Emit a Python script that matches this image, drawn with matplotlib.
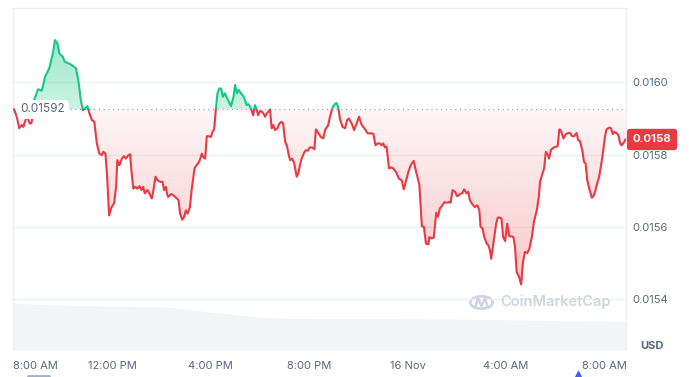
import numpy as np
import matplotlib.pyplot as plt
from matplotlib.patches import Rectangle, Circle
from matplotlib.lines import Line2D
from matplotlib.colors import to_rgb

plt.rcParams['font.family'] = ['Inter', 'DejaVu Sans']

# price, minutes after 8:00 AM (15 Nov)
minutes = [1, 8, 14, 20, 24, 30, 34, 38, 40, 44,
           49, 50, 60, 69, 77, 87, 96, 101, 107, 112,
           120, 125, 134, 142, 152, 158, 164, 169, 174, 180,
           185, 191, 197, 203, 209, 215, 219, 224, 228, 233,
           239, 245, 250, 253, 258, 264, 269, 274, 280, 284,
           288, 292, 296, 302, 307, 312, 316, 320, 326, 331,
           337, 341, 346, 351, 357, 363, 367, 371, 375, 377,
           384, 389, 398, 402, 406, 411, 416, 420, 424, 430,
           434, 441, 446, 450, 454, 459, 462, 467, 471, 476,
           481, 485, 489, 493, 497, 501, 506, 510, 515, 519,
           525, 530, 536, 540, 544, 549, 554, 560, 564, 568,
           572, 576, 580, 584, 588, 593, 596, 601, 605, 609,
           613, 617, 621, 625, 629, 633, 637, 643, 648, 653,
           657, 662, 666, 670, 674, 679, 684, 690, 694, 698,
           702, 708, 712, 717, 722, 728, 733, 737, 743, 749,
           755, 759, 767, 771, 778, 783, 787, 791, 796, 802,
           808, 813, 817, 824, 830, 836, 842, 847, 852, 858,
           863, 873, 877, 882, 887, 893, 897, 901, 905, 909,
           915, 920, 925, 932, 939, 946, 951, 956, 962, 968,
           975, 982, 989, 995, 1000, 1005, 1011, 1013, 1019, 1024,
           1030, 1034, 1039, 1045, 1050, 1055, 1062, 1065, 1070, 1076,
           1081, 1088, 1094, 1098, 1104, 1108, 1112, 1118, 1124, 1130,
           1135, 1138, 1143, 1147, 1153, 1157, 1161, 1164, 1168, 1171,
           1176, 1180, 1185, 1189, 1193, 1198, 1203, 1208, 1214, 1218,
           1222, 1226, 1232, 1237, 1241, 1246, 1252, 1257, 1263, 1268,
           1275, 1280, 1283, 1289, 1293, 1297, 1302, 1305, 1310, 1315,
           1322, 1326, 1330, 1334, 1340, 1346, 1352, 1356, 1361, 1366,
           1372, 1376, 1380, 1386, 1390, 1394, 1398, 1403, 1409, 1413,
           1417, 1421, 1427, 1433, 1437, 1441, 1445, 1452, 1456, 1460,
           1464, 1470, 1474, 1478, 1482, 1488, 1491]

price = [0.015926, 0.015905, 0.015873, 0.015882, 0.015877, 0.015898, 0.015903, 0.015891, 0.015886, 0.015888,
         0.015929, 0.015951, 0.015981, 0.015977, 0.016016, 0.016039, 0.016080, 0.016117, 0.016108, 0.016080,
         0.016071, 0.016057, 0.016053, 0.016048, 0.016039, 0.016006, 0.015951, 0.015923, 0.015928, 0.015934,
         0.015914, 0.015896, 0.015891, 0.015831, 0.015803, 0.015799, 0.015808, 0.015803, 0.015743, 0.015632,
         0.015655, 0.015665, 0.015711, 0.015785, 0.015771, 0.015789, 0.015796, 0.015789, 0.015799, 0.015801,
         0.015748, 0.015706, 0.015711, 0.015706, 0.015713, 0.015702, 0.015711, 0.015693, 0.015702, 0.015693,
         0.015679, 0.015702, 0.015739, 0.015729, 0.015725, 0.015725, 0.015702, 0.015711, 0.015688, 0.015683,
         0.015691, 0.015688, 0.015679, 0.015674, 0.015637, 0.015620, 0.015628, 0.015646, 0.015637, 0.015655,
         0.015702, 0.015762, 0.015771, 0.015776, 0.015785, 0.015803, 0.015794, 0.015789, 0.015851, 0.015851,
         0.015849, 0.015863, 0.015870, 0.015925, 0.015970, 0.015983, 0.015983, 0.015960, 0.015970, 0.015960,
         0.015946, 0.015934, 0.015960, 0.015993, 0.015970, 0.015979, 0.015970, 0.015962, 0.015951, 0.015937,
         0.015940, 0.015934, 0.015923, 0.015909, 0.015937, 0.015923, 0.015909, 0.015921, 0.015919, 0.015914,
         0.015905, 0.015914, 0.015919, 0.015925, 0.015873, 0.015882, 0.015868, 0.015873, 0.015886, 0.015891,
         0.015886, 0.015835, 0.015826, 0.015803, 0.015785, 0.015789, 0.015776, 0.015739, 0.015748, 0.015771,
         0.015789, 0.015805, 0.015812, 0.015811, 0.015820, 0.015820, 0.015815, 0.015870, 0.015859, 0.015849,
         0.015845, 0.015868, 0.015882, 0.015905, 0.015932, 0.015940, 0.015943, 0.015932, 0.015896, 0.015877,
         0.015873, 0.015896, 0.015900, 0.015886, 0.015868, 0.015886, 0.015905, 0.015886, 0.015877, 0.015868,
         0.015859, 0.015859, 0.015857, 0.015826, 0.015831, 0.015831, 0.015826, 0.015831, 0.015820, 0.015822,
         0.015762, 0.015765, 0.015762, 0.015752, 0.015734, 0.015729, 0.015704, 0.015725, 0.015752, 0.015771,
         0.015783, 0.015748, 0.015716, 0.015602, 0.015600, 0.015554, 0.015552, 0.015572, 0.015568, 0.015571,
         0.015639, 0.015628, 0.015651, 0.015660, 0.015669, 0.015667, 0.015669, 0.015667, 0.015702, 0.015697,
         0.015685, 0.015691, 0.015694, 0.015704, 0.015693, 0.015697, 0.015674, 0.015663, 0.015655, 0.015660,
         0.015646, 0.015600, 0.015596, 0.015572, 0.015554, 0.015549, 0.015535, 0.015512, 0.015545, 0.015572,
         0.015609, 0.015626, 0.015626, 0.015623, 0.015572, 0.015561, 0.015609, 0.015574, 0.015574, 0.015572,
         0.015545, 0.015475, 0.015462, 0.015441, 0.015499, 0.015531, 0.015528, 0.015540, 0.015572, 0.015614,
         0.015646, 0.015683, 0.015725, 0.015748, 0.015762, 0.015808, 0.015799, 0.015789, 0.015814, 0.015819,
         0.015822, 0.015824, 0.015870, 0.015866, 0.015845, 0.015857, 0.015860, 0.015860, 0.015851, 0.015851,
         0.015860, 0.015840, 0.015838, 0.015812, 0.015780, 0.015776, 0.015729, 0.015706, 0.015681, 0.015685,
         0.015697, 0.015716, 0.015739, 0.015780, 0.015812, 0.015849, 0.015870, 0.015875, 0.015873, 0.015857,
         0.015863, 0.015859, 0.015854, 0.015831, 0.015826, 0.015835, 0.015842]

baseline = 0.015925
baseline_label = '0.01592'
last_label = '0.0158'

# rolling 24h volume (M USD)
vol_minutes = [0, 40, 89, 211, 308, 381, 430, 467, 528, 601, 659, 771, 893, 1049, 1185, 1319, 1429, 1492]
vol_musd = [4.73, 4.60, 4.50, 4.40, 4.35, 4.27, 4.07, 3.83, 3.60, 3.30, 3.17, 3.13, 3.12, 3.10, 3.03, 2.93, 2.88, 2.87]

x_ticks = [0, 240, 480, 720, 960, 1200, 1440]
x_labels = ['8:00 AM', '12:00 PM', '4:00 PM', '8:00 PM', '16 Nov', '4:00 AM', '8:00 AM']
y_ticks = [0.0154, 0.0156, 0.0158, 0.0160]

RED = '#ea3943'
GREEN = '#16c784'
GREY = '#58667e'
GRID = '#eef1f4'
WM = '#cfd6e1'

x = np.array(minutes)
p = np.array(price)
xlim = (-1.2, 1492.4)
ylim = (0.0152596, 0.0162058)

fig = plt.figure(figsize=(6.89, 3.77), dpi=100)
pos = [13 / 689, 27 / 377, 613 / 689, 342 / 377]

# volume underneath
axv = fig.add_axes(pos, zorder=0)
axv.fill_between(vol_minutes, vol_musd, color='#f2f4f7', lw=0)
axv.set_xlim(xlim)
axv.set_ylim(0, 34.2)
axv.axis('off')

ax = fig.add_axes(pos, zorder=1)
ax.patch.set_visible(False)

# area between line and baseline, used as clip for gradients
poly = ax.fill_between(x, p, baseline, color='none', lw=0)
clip = poly.get_paths()[0]

yy = np.linspace(ylim[0], baseline, 200)
a = np.clip(0.05 + 0.23 * (baseline - yy) / (baseline - 0.01544), 0, 0.34)
img = np.zeros((200, 1, 4))
img[:, 0, :3] = to_rgb(RED)
img[:, 0, 3] = a
im = ax.imshow(img, extent=[xlim[0], xlim[1], ylim[0], baseline], origin='lower',
               aspect='auto', zorder=1, interpolation='bilinear')
im.set_clip_path(clip, transform=ax.transData)

yy = np.linspace(baseline, ylim[1], 200)
a = np.clip(0.22 + 0.2 * (yy - baseline) / (0.01612 - baseline), 0, 0.45)
img = np.zeros((200, 1, 4))
img[:, 0, :3] = to_rgb(GREEN)
img[:, 0, 3] = a
im = ax.imshow(img, extent=[xlim[0], xlim[1], baseline, ylim[1]], origin='lower',
               aspect='auto', zorder=1, interpolation='bilinear')
im.set_clip_path(clip, transform=ax.transData)

# line, green above / red below the open price
lg, = ax.plot(x, p, color=GREEN, lw=1.5, zorder=3, solid_joinstyle='round')
lr, = ax.plot(x, p, color=RED, lw=1.5, zorder=3, solid_joinstyle='round')
lg.set_clip_path(Rectangle((xlim[0], baseline), xlim[1] - xlim[0], 1, transform=ax.transData))
lr.set_clip_path(Rectangle((xlim[0], baseline - 1), xlim[1] - xlim[0], 1, transform=ax.transData))

ax.axhline(baseline, color='#8c95a4', lw=0.9, ls=(0, (0.8, 3)), zorder=2)

ax.set_xlim(xlim)
ax.set_ylim(ylim)

ax.set_yticks(y_ticks)
ax.set_yticklabels([f'{v:.4f}' for v in y_ticks])
ax.yaxis.tick_right()
ax.tick_params(axis='y', length=0, pad=4.5, labelsize=8, labelcolor=GREY)
ax.set_xticks(x_ticks)
ax.set_xticklabels(x_labels)
ax.tick_params(axis='x', length=0, pad=8, labelsize=8, labelcolor=GREY)
ax.get_xticklabels()[0].set_ha('left')
ax.grid(axis='y', color=GRID, lw=1, zorder=0)
ax.set_axisbelow(True)

for s in ['top', 'left', 'right']:
    ax.spines[s].set_color('#eceff2')
    ax.spines[s].set_linewidth(1)
ax.spines['bottom'].set_visible(False)

# open price label
ax.annotate(baseline_label, xy=(0, baseline), xycoords=ax.get_yaxis_transform(),
            xytext=(5.5, 0), textcoords='offset points', ha='left', va='center',
            fontsize=8.5, color=GREY, zorder=6,
            bbox=dict(boxstyle='round,pad=0.3,rounding_size=0.4', fc='white', ec='none'))

# last price tag
ax.annotate(last_label, xy=(1, p[-1]), xycoords=ax.get_yaxis_transform(),
            xytext=(4.8, 0), textcoords='offset points', ha='left', va='center',
            fontsize=8.2, color='white', fontweight='bold', zorder=10, annotation_clip=False,
            bbox=dict(boxstyle='round,pad=0.5,rounding_size=0.25', fc=RED, ec='none'))

fig.text(640 / 689, 1 - 346 / 377, 'USD', fontsize=8, fontweight='bold', color=GREY,
         ha='left', va='center')

# watermark
fig.text(500 / 689, 1 - 302 / 377, 'CoinMarketCap', fontsize=10.5, color=WM,
         ha='left', va='center', fontweight='semibold')
fig.add_artist(Circle((481.5 / 689, 1 - 302.5 / 377), 0.0163, transform=fig.transFigure,
                      fill=False, ec=WM, lw=2))
fig.add_artist(Line2D([475 / 689, 478 / 689, 481.5 / 689, 485 / 689, 488 / 689],
                      [1 - 308 / 377, 1 - 298 / 377, 1 - 306 / 377, 1 - 298 / 377, 1 - 308 / 377],
                      transform=fig.transFigure, color=WM, lw=1.8, solid_capstyle='round'))

# slider handles
fig.add_artist(Line2D([28 / 689, 49 / 689], [1 - 376 / 377] * 2, transform=fig.transFigure,
                      color='#a6b0c3', lw=2, solid_capstyle='round'))
fig.add_artist(Line2D([578 / 689], [1 - 374 / 377], transform=fig.transFigure,
                      marker='^', color='#3861fb', markersize=5, lw=0))

fig.savefig('out.png', dpi=100, facecolor='white')
